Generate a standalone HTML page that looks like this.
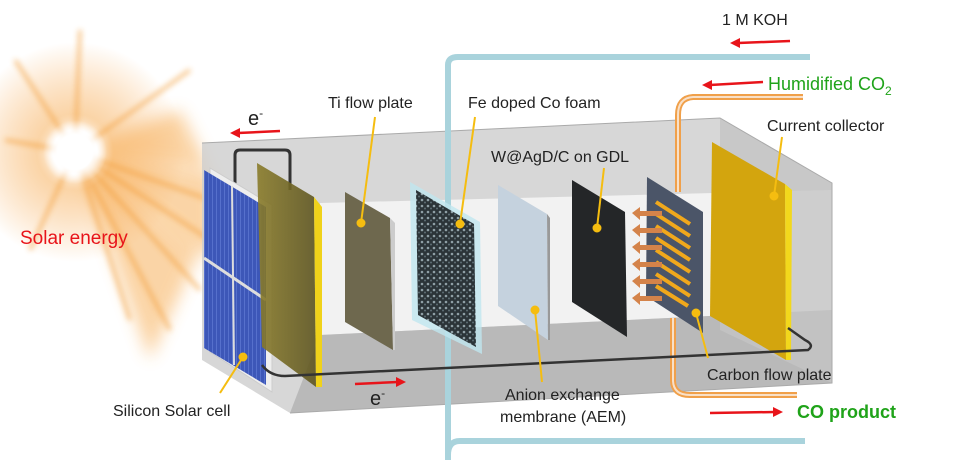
<!DOCTYPE html>
<html><head><meta charset="utf-8"><style>
html,body{margin:0;padding:0;background:#fff;}
svg{display:block;}
text{font-family:"Liberation Sans",Arial,sans-serif;}
</style></head><body>
<svg width="953" height="474" viewBox="0 0 953 474" xmlns="http://www.w3.org/2000/svg">
<defs>
<radialGradient id="sun" cx="75" cy="152" r="110" gradientUnits="userSpaceOnUse">
<stop offset="0" stop-color="#fff"/><stop offset="0.2" stop-color="#fff"/>
<stop offset="0.35" stop-color="#f7b260" stop-opacity="0.55"/>
<stop offset="1" stop-color="#f7a040" stop-opacity="0"/></radialGradient>
<radialGradient id="core" cx="75" cy="152" r="32" gradientUnits="userSpaceOnUse">
<stop offset="0.55" stop-color="#fff"/><stop offset="1" stop-color="#fff" stop-opacity="0"/></radialGradient>
<linearGradient id="olive" x1="0" y1="0" x2="1" y2="0"><stop offset="0" stop-color="#8a7c2a"/><stop offset="1" stop-color="#5e5520"/></linearGradient>
<pattern id="foam" width="6" height="6" patternUnits="userSpaceOnUse"><rect width="6" height="6" fill="#2b3438"/><circle cx="2" cy="2" r="1.3" fill="#8fa0a6"/><circle cx="5" cy="4.5" r="1" fill="#5d6e74"/></pattern>
<pattern id="blue" width="4" height="4" patternUnits="userSpaceOnUse"><rect width="4" height="4" fill="#3d57b8"/><rect width="1" height="4" fill="#5670cc"/></pattern>
<filter id="blur" x="-20%" y="-20%" width="140%" height="140%"><feGaussianBlur stdDeviation="3"/></filter>
<filter id="blur2" x="-20%" y="-20%" width="140%" height="140%"><feGaussianBlur stdDeviation="8"/></filter>
</defs>

<!-- sun -->
<g>
<g filter="url(#blur2)" fill="#f6a13a" opacity="0.45">
<polygon points="75,152 215,175 215,260"/>
<polygon points="75,152 200,250 150,360"/>
<polygon points="75,152 180,110 210,170"/>
</g>
<circle cx="75" cy="152" r="110" fill="url(#sun)"/>
<g stroke="#f29a30" stroke-width="3" opacity="0.7" filter="url(#blur)">
<line x1="75" y1="152" x2="80" y2="30"/><line x1="75" y1="152" x2="190" y2="70"/>
<line x1="75" y1="152" x2="15" y2="60"/><line x1="75" y1="152" x2="5" y2="140"/>
<line x1="75" y1="152" x2="30" y2="250"/><line x1="75" y1="152" x2="130" y2="320"/>
<line x1="75" y1="152" x2="210" y2="200"/><line x1="75" y1="152" x2="200" y2="290"/>
<line x1="75" y1="152" x2="210" y2="240"/><line x1="75" y1="152" x2="170" y2="330"/>
</g>
<circle cx="75" cy="152" r="32" fill="url(#core)"/>
</g>

<!-- box -->
<polygon points="202,143 720,118 832,183 832,383 290,413 202,360" fill="#cdcdcd" opacity="0.8"/>
<polygon points="320,203 832,190 832,310 320,335" fill="#f2f2f2"/>
<polygon points="320,335 832,310 832,383 290,413" fill="#b9b9b9"/>
<polygon points="720,118 832,183 832,383 720,330" fill="#c4c4c4" opacity="0.8"/>
<polyline points="202,143 720,118 832,183 832,383 290,413" fill="none" stroke="#aaa" stroke-width="1"/>

<!-- wire top -->
<path d="M235,192 V155 Q235,150 240,150 H285 Q290,150 290,155 V190" fill="none" stroke="#333" stroke-width="3"/>

<!-- solar panel -->
<polygon points="210,168 272,205 272,392 210,352" fill="#eee" stroke="#ccc"/>
<polygon points="204,170 266,207 266,385 204,348" fill="url(#blue)"/>
<line x1="232" y1="186" x2="234" y2="365" stroke="#ddd" stroke-width="2"/>
<line x1="204" y1="258" x2="266" y2="300" stroke="#ddd" stroke-width="3"/>

<!-- yellow plate -->
<polygon points="257,163 314,197 316,387 262,347" fill="url(#olive)" opacity="0.9"/>
<polygon points="314,197 322,207 322,387 316,387" fill="#f0d21a"/>

<!-- Ti plate -->
<polygon points="345,192 390,218 393,350 345,322" fill="#6e684e"/>
<polygon points="390,218 395,223 395,350 393,350" fill="#ccc"/>

<!-- water pipe -->
<path d="M448,460 V65 Q448,57 458,57 H810" fill="none" stroke="#a9d3dc" stroke-width="6"/>
<path d="M448,455 Q448,441 460,441 H805" fill="none" stroke="#a9d3dc" stroke-width="6"/>

<!-- foam -->
<polygon points="410,182 480,222 482,354 412,320" fill="#bfe6ef" opacity="0.8"/>
<polygon points="416,190 474,224 476,347 418,315" fill="url(#foam)"/>

<!-- AEM -->
<polygon points="498,185 547,214 548,340 498,306" fill="#c5d2de"/>
<polygon points="547,214 550,218 550,340 548,340" fill="#999"/>

<!-- GDL -->
<polygon points="572,180 625,212 627,337 572,302" fill="#242628"/>

<!-- carbon plate -->
<polygon points="647,177 703,212 703,333 646,296" fill="#4b5568"/>
<g stroke="#f0a81c" stroke-width="4">
<line x1="656" y1="202" x2="690" y2="224"/><line x1="656" y1="214" x2="690" y2="236"/>
<line x1="656" y1="226" x2="690" y2="248"/><line x1="656" y1="238" x2="690" y2="260"/>
<line x1="656" y1="250" x2="690" y2="272"/><line x1="656" y1="262" x2="690" y2="284"/>
<line x1="656" y1="274" x2="690" y2="296"/><line x1="656" y1="286" x2="688" y2="306"/>
</g>
<g fill="#d4834a">
<polygon points="632,213 640,207 640,211 662,211 662,216 640,216 640,220"/>
<polygon points="632,230 640,224 640,228 662,228 662,233 640,233 640,237"/>
<polygon points="632,247 640,241 640,245 662,245 662,250 640,250 640,254"/>
<polygon points="632,264 640,258 640,262 662,262 662,267 640,267 640,271"/>
<polygon points="632,281 640,275 640,279 662,279 662,284 640,284 640,288"/>
<polygon points="632,298 640,292 640,296 662,296 662,301 640,301 640,305"/>
</g>

<!-- current collector -->
<polygon points="712,142 785,184 786,360 710,316" fill="#d3a50e"/>
<polygon points="785,184 792,190 791,360 786,360" fill="#f2d81c"/>

<!-- orange pipe -->
<path d="M803,97 H693 Q678,98 678,115 V192" fill="none" stroke="#f0a04a" stroke-width="6"/>
<path d="M803,97 H693 Q678,98 678,115 V192" fill="none" stroke="#f8e0c8" stroke-width="2"/>
<path d="M673,318 V380 Q673,395 690,395 H797" fill="none" stroke="#f0a04a" stroke-width="6"/>
<path d="M673,318 V380 Q673,395 690,395 H797" fill="none" stroke="#f8e0c8" stroke-width="2"/>

<!-- bottom wire -->
<path d="M262,365 Q270,376 285,376 L808,350 Q815,345 805,340 L788,328" fill="none" stroke="#333" stroke-width="2.5"/>

<!-- red arrows -->
<g stroke="#e8141a" stroke-width="2.5" fill="#e8141a">
<line x1="280" y1="131" x2="238" y2="133"/><polygon points="230,133 240,128 240,138" stroke="none"/>
<line x1="355" y1="384" x2="398" y2="382"/><polygon points="406,382 396,377 396,387" stroke="none"/>
<line x1="790" y1="41" x2="738" y2="43"/><polygon points="730,43 740,38 740,48" stroke="none"/>
<line x1="763" y1="82" x2="710" y2="85"/><polygon points="702,85 712,80 712,90" stroke="none"/>
<line x1="710" y1="413" x2="775" y2="412"/><polygon points="783,412 773,407 773,417" stroke="none"/>
</g>

<!-- callout lines -->
<g stroke="#f5bd10" stroke-width="2" fill="#f5bd10">
<line x1="220" y1="393" x2="243" y2="357"/><circle cx="243" cy="357" r="3.5"/>
<line x1="375" y1="117" x2="361" y2="223"/><circle cx="361" cy="223" r="3.5"/>
<line x1="475" y1="117" x2="460" y2="224"/><circle cx="460" cy="224" r="3.5"/>
<line x1="542" y1="382" x2="535" y2="310"/><circle cx="535" cy="310" r="3.5"/>
<line x1="604" y1="168" x2="597" y2="228"/><circle cx="597" cy="228" r="3.5"/>
<line x1="708" y1="358" x2="696" y2="313"/><circle cx="696" cy="313" r="3.5"/>
<line x1="782" y1="137" x2="774" y2="196"/><circle cx="774" cy="196" r="3.5"/>
</g>

<!-- labels -->
<g font-size="16" fill="#222">
<text x="248" y="125" font-size="20">e<tspan dy="-8" font-size="12">-</tspan></text>
<text x="370" y="405" font-size="20">e<tspan dy="-8" font-size="12">-</tspan></text>
<text x="328" y="108">Ti flow plate</text>
<text x="468" y="108">Fe doped Co foam</text>
<text x="491" y="162">W@AgD/C on GDL</text>
<text x="722" y="25">1 M KOH</text>
<text x="767" y="131">Current collector</text>
<text x="113" y="416">Silicon Solar cell</text>
<text x="505" y="400">Anion exchange</text>
<text x="500" y="422">membrane (AEM)</text>
<text x="707" y="380">Carbon flow plate</text>
</g>
<text x="20" y="244" font-size="19" fill="#e8141a">Solar energy</text>
<text x="768" y="90" font-size="18" fill="#1fa319">Humidified CO<tspan font-size="12" dy="5">2</tspan></text>
<text x="797" y="418" font-size="18" font-weight="bold" fill="#1fa319">CO product</text>
</svg>
</body></html>
